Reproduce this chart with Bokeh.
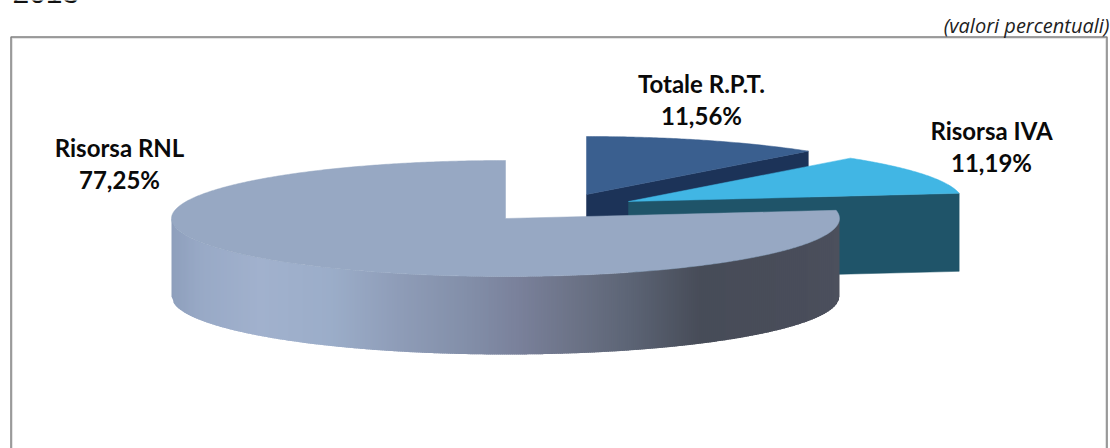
import math

from bokeh.core.properties import value
from bokeh.embed import file_html
from bokeh.models import Range1d
from bokeh.plotting import figure
from bokeh.resources import INLINE

# Composition of the resources, in percent, in drawing order clockwise from 12 o'clock
categories = ["Totale R.P.T.", "Risorsa IVA", "Risorsa RNL"]
shares = [11.56, 11.19, 77.25]
top_colors = ["#3a5f8f", "#41b6e4", "#97a8c3"]
side_colors = ["#1c3358", "#1f5469", None]

title_text = "2013"
unit_text = "(valori percentuali)"

# Canvas-unit layout of the tilted pie
WIDTH, HEIGHT = 1110, 448
RX, RY, DEPTH = 334, 58, 78
centers = [(586, 194), (628, 201), (505, 218)]
label_anchor = [(701, 82.5), (991, 129.5), (119, 146.5)]
LINE_GAP = 32.5

# Horizontal shading of the round wall of the large slice
wall_stops = [
    (171, "#8e9fbc"), (200, "#98a9c6"), (260, "#a1b1cd"), (330, "#9badc9"),
    (400, "#8e9cb7"), (470, "#828ea8"), (517, "#7a819b"), (570, "#6d7488"),
    (630, "#5c6475"), (700, "#474c58"), (800, "#494d5a"), (839, "#4c505d"),
]


def rgb(hex_color):
    return tuple(int(hex_color[i:i + 2], 16) for i in (1, 3, 5))


def wall_color(x):
    for (x0, c0), (x1, c1) in zip(wall_stops, wall_stops[1:]):
        if x <= x1:
            f = max(0.0, (x - x0) / (x1 - x0))
            a, b = rgb(c0), rgb(c1)
            return "#%02x%02x%02x" % tuple(round(u + (v - u) * f) for u, v in zip(a, b))
    return wall_stops[-1][1]


def rim(center, t):
    """Point on the tilted rim; t is degrees clockwise from 12 o'clock."""
    r = math.radians(t)
    return center[0] + RX * math.sin(r), center[1] - RY * math.cos(r)


def arc(center, t0, t1, step=0.5):
    n = max(2, int(abs(t1 - t0) / step))
    pts = [rim(center, t0 + (t1 - t0) * i / n) for i in range(n + 1)]
    return [p[0] for p in pts], [p[1] for p in pts]


def lower_rim(center, x):
    u = min(1.0, abs(x - center[0]) / RX)
    return center[1] + RY * math.sqrt(1 - u * u)


p = figure(
    width=WIDTH, height=HEIGHT, output_backend="svg", toolbar_location=None,
    x_range=Range1d(0, WIDTH), y_range=Range1d(HEIGHT, 0),
    x_axis_type=None, y_axis_type=None, min_border=0,
    background_fill_color="white", border_fill_color="white",
)
p.grid.visible = False
p.outline_line_color = None

# Open frame around the chart: no lower edge
p.line([11.5, 11.5, 1105.5, 1105.5], [448, 37.5, 37.5, 448], line_color="#dcdcdc", line_width=1.5)
p.line([10.5, 10.5, 1106.5, 1106.5], [448, 36.5, 36.5, 448], line_color="#808080", line_width=1.5)

# Cumulative angle of each slice
angles = []
start = 0.0
for share in shares:
    end = start + share * 3.6
    angles.append((start, end))
    start = end

# The two detached slices: cut face first, then the top
for i in (0, 1):
    c = centers[i]
    t1 = angles[i][1]
    tip = rim(c, t1)
    p.patch([c[0], tip[0], tip[0], c[0]],
            [c[1], tip[1], tip[1] + DEPTH, c[1] + DEPTH],
            fill_color=side_colors[i], line_color=side_colors[i], line_width=0.5)
    xs, ys = arc(c, *angles[i])
    p.patch([c[0]] + xs, [c[1]] + ys, fill_color=top_colors[i],
            line_color=top_colors[i], line_width=0.5)

# Round wall of the large slice: overlapping strips, painted left to right
c = centers[2]
t0, t1 = angles[2]
left, right = c[0] - RX, c[0] + RX
STEP = 2.0
wall_xs, wall_ys, wall_cols = [], [], []
x = left
while x < right:
    x_end = min(x + STEP + 1.5, right)
    y_a, y_b = lower_rim(c, x), lower_rim(c, x_end)
    wall_xs.append([x, x_end, x_end, x])
    wall_ys.append([y_a, y_b, y_b + DEPTH, y_a + DEPTH])
    wall_cols.append(wall_color(x + STEP / 2))
    x += STEP
p.patches(wall_xs, wall_ys, fill_color=wall_cols, line_color=None)

xs, ys = arc(c, t0, t1)
p.patch([c[0]] + xs, [c[1]] + ys, fill_color=top_colors[2],
        line_color=top_colors[2], line_width=0.5)

# Slice labels: name over value
for name, share, (lx, ly) in zip(categories, shares, label_anchor):
    pct = f"{share:.2f}".replace(".", ",") + "%"
    p.text([lx, lx], [ly, ly + LINE_GAP], text=[name, pct], text_align="center",
           text_baseline="middle", text_font=value("Lato"), text_font_style="bold",
           text_font_size="24px", text_color="#0a0a0a")

p.text([1109], [25], text=[unit_text], text_align="right", text_baseline="alphabetic",
       text_font=value("Open Sans"), text_font_style="italic", text_font_size="20px",
       text_color="#222222")
# The year heading runs off the top of the page
p.text([12], [-8], text=[title_text], text_align="left", text_baseline="alphabetic",
       text_font=value("Liberation Sans"), text_font_size="30px", text_color="#111111")

open("out.html", "w").write(file_html(p, INLINE))
